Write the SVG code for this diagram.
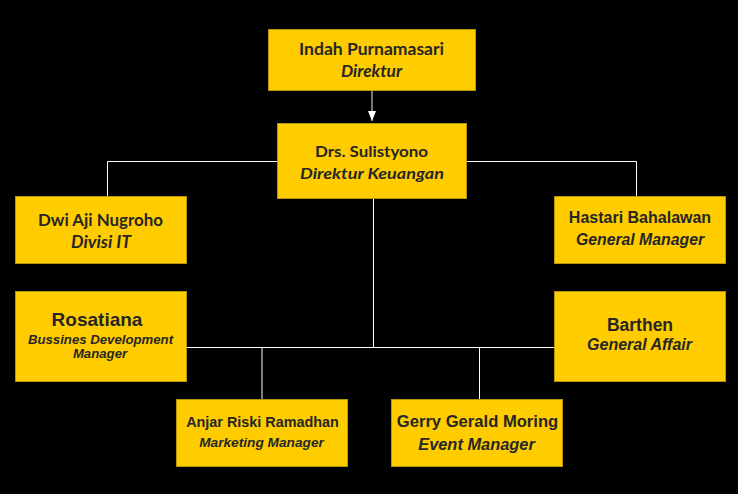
<svg xmlns="http://www.w3.org/2000/svg" width="738" height="494" viewBox="0 0 738 494">
<style>
.box{fill:#FFCC00;stroke:#B8960A;stroke-width:1}
.c{font-family:Lato,"Noto Sans",sans-serif;fill:#262626;text-anchor:middle;font-weight:bold}
.a{font-family:"Liberation Sans",Arial,sans-serif;fill:#262626;text-anchor:middle;font-weight:bold}
.i{font-style:italic}
.ln{stroke:#FFFFFF;stroke-width:1;fill:none}
</style>
<defs>
<marker id="arr" markerWidth="10" markerHeight="8" refX="10" refY="4" orient="auto" markerUnits="userSpaceOnUse">
<path d="M0,0 L10,4 L0,8 Z" fill="#FFFFFF"/>
</marker>
</defs>
<rect width="738" height="494" fill="#000000"/>
<g id="connectors">
<line x1="372" y1="91" x2="372" y2="121" stroke="#A0A0A0" stroke-width="1.5" marker-end="url(#arr)"/>
<polyline class="ln" points="277,161.5 107.5,161.5 107.5,196"/>
<polyline class="ln" points="467,161.5 636.5,161.5 636.5,196"/>
<line class="ln" x1="373.5" y1="199" x2="373.5" y2="347.5"/>
<line class="ln" x1="187" y1="347.5" x2="554" y2="347.5"/>
<line class="ln" x1="262" y1="347.5" x2="262" y2="399"/>
<line class="ln" x1="479.5" y1="347.5" x2="479.5" y2="399"/>
</g>
<g id="n-indah">
<rect class="box" x="268.5" y="29.5" width="207" height="61"/>
<text class="c" x="371.5" y="55" font-size="17" textLength="145" lengthAdjust="spacingAndGlyphs">Indah Purnamasari</text>
<text class="c i" x="371.5" y="77" font-size="17" textLength="61" lengthAdjust="spacingAndGlyphs">Direktur</text>
</g>
<g id="n-sulistyono">
<rect class="box" x="277.5" y="123.5" width="189" height="75"/>
<text class="c" x="371.5" y="157" font-size="15.5" textLength="113" lengthAdjust="spacingAndGlyphs">Drs. Sulistyono</text>
<text class="c i" x="372" y="178.5" font-size="15.5" textLength="144" lengthAdjust="spacingAndGlyphs">Direktur Keuangan</text>
</g>
<g id="n-dwi">
<rect class="box" x="15.5" y="196.5" width="171" height="67"/>
<text class="c" x="100.5" y="226" font-size="17.5" textLength="125" lengthAdjust="spacingAndGlyphs">Dwi Aji Nugroho</text>
<text class="c i" x="101" y="248" font-size="16.5" textLength="60" lengthAdjust="spacingAndGlyphs">Divisi IT</text>
</g>
<g id="n-hastari">
<rect class="box" x="554.5" y="196.5" width="171" height="67"/>
<text class="a" x="640" y="223" font-size="16">Hastari Bahalawan</text>
<text class="a i" x="640" y="245" font-size="15.8">General Manager</text>
</g>
<g id="n-rosatiana">
<rect class="box" x="15.5" y="291.5" width="171" height="90"/>
<text class="a" x="97" y="326" font-size="19">Rosatiana</text>
<text class="a i" x="100.5" y="344" font-size="13.2">Bussines Development</text>
<text class="a i" x="100" y="358" font-size="13.2">Manager</text>
</g>
<g id="n-barthen">
<rect class="box" x="554.5" y="291.5" width="171" height="90"/>
<text class="a" x="640" y="330.5" font-size="17.5">Barthen</text>
<text class="a i" x="639.5" y="350" font-size="16">General Affair</text>
</g>
<g id="n-anjar">
<rect class="box" x="176.5" y="399.5" width="171" height="67"/>
<text class="a" x="262.5" y="427" font-size="14.4">Anjar Riski Ramadhan</text>
<text class="a i" x="261.5" y="447" font-size="13.7">Marketing Manager</text>
</g>
<g id="n-gerry">
<rect class="box" x="391.5" y="399.5" width="171" height="67"/>
<text class="a" x="477.5" y="427" font-size="16.6">Gerry Gerald Moring</text>
<text class="a i" x="476.5" y="450" font-size="16.4">Event Manager</text>
</g>
</svg>
